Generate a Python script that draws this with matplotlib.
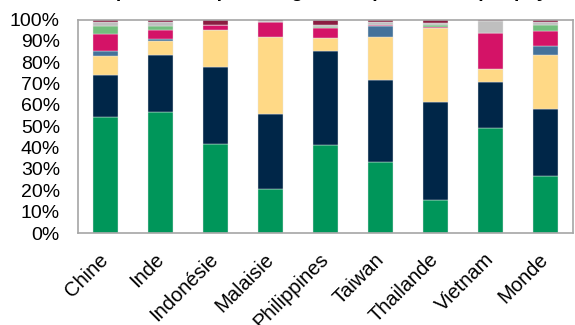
import matplotlib
matplotlib.use("Agg")
import matplotlib.pyplot as plt
import numpy as np

plt.rcParams['font.family'] = ['Liberation Sans', 'DejaVu Sans']

pays = ["Chine", "Inde", "Indonésie", "Malaisie", "Philippines",
        "Taiwan", "Thailande", "Vietnam", "Monde"]

# parts en % (de bas en haut)
s1 = [54.5, 56.5, 41.6, 20.7, 41.3, 33.2, 15.7, 49.1, 26.6]
s2 = [19.5, 27.1, 36.1, 35.2, 43.9, 38.6, 45.7, 21.6, 31.7]
s3 = [8.9, 6.3, 17.2, 35.7, 6.1, 19.9, 34.4, 5.9, 24.9]
s4 = [2.3, 0.8, 0.0, 0.0, 0.0, 5.2, 0.0, 0.0, 4.3]
s5 = [7.9, 4.5, 2.6, 7.2, 4.6, 0.6, 0.6, 16.9, 6.9]
s6 = [3.7, 1.7, 0.0, 0.0, 0.8, 0.0, 0.9, 0.3, 3.1]
s7 = [2.0, 2.0, 0.0, 0.3, 0.5, 1.5, 1.1, 5.6, 1.4]
s8 = [1.2, 1.1, 2.5, 0.9, 2.8, 1.0, 1.6, 0.6, 1.1]

series = [s1, s2, s3, s4, s5, s6, s7, s8]
couleurs = ["#00965A", "#002648", "#FFD986", "#44729A",
            "#D41367", "#72BE7D", "#BFBFBF", "#8B1D41"]

fig = plt.figure(figsize=(5.75, 3.25), dpi=100)
ax = fig.add_axes([0.1357, 0.283, 0.8608, 0.657])

x = np.arange(len(pays))
bottom = np.zeros(len(pays))
for vals, c in zip(series, couleurs):
    vals = np.array(vals)
    ax.bar(x, vals, 0.44, bottom=bottom, color=c, edgecolor="#e6e6e6", linewidth=0.3)
    bottom += vals

ax.set_xlim(-0.5, len(pays) - 0.5)
ax.set_ylim(0, 100)
ax.set_yticks(range(0, 101, 10))
ax.set_yticklabels([f"{v}%" for v in range(0, 101, 10)], fontsize=14)
ax.set_xticks(x)
ax.set_xticklabels(pays, rotation=45, ha="right", va="center",
                   rotation_mode="anchor", fontsize=14.5)
ax.tick_params(axis="y", length=0, pad=13)
ax.tick_params(axis="x", length=0, pad=17)
for sp in ax.spines.values():
    sp.set_color("#A6A6A6")
    sp.set_linewidth(1.2)

# titre coupé en haut de l'image
fig.text(0.565, 1.0102, "Exportations par catégorie de produits et par pays",
         ha="center", va="baseline", fontsize=14, fontweight="bold")

fig.savefig("out.png", dpi=100)
